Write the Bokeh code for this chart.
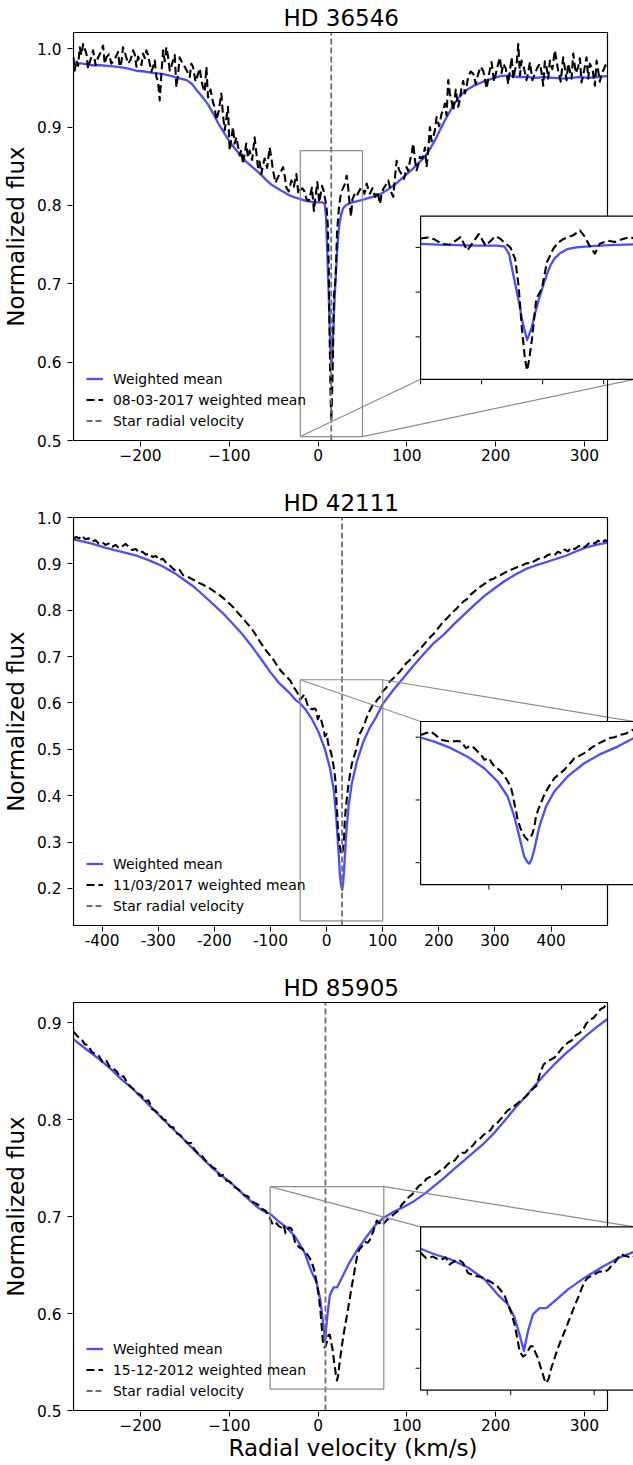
from bokeh.plotting import figure
from bokeh.layouts import column
from bokeh.models import Range1d, FixedTicker, Legend, LegendItem, PrintfTickFormatter
from bokeh.embed import file_html
from bokeh.resources import INLINE

# ------------------------------------------------------------------ data
P1_TITLE = "HD 36546"
P1_DATE = "08-03-2017 weighted mean"
P1_XLIM = (-275.5, 326.0)
P1_YLIM = (0.5, 1.0208)
P1_RV = 14.8
P1_BOX = (-20.0, 50.0, 0.505, 0.87)
P1_INSET = (0.65, 0.15, 0.4, 0.4)
P1_XTICKS = [-200, -100, 0, 100, 200, 300]
P1_XLABELS = ["\u2212200", "\u2212100", "0", "100", "200", "300"]
P1_YTICKS = [0.5, 0.6, 0.7, 0.8, 0.9, 1.0]
P1_INS_XTICKS = [-20, 0, 20, 40]
P1_INS_YTICKS = [0.6, 0.7, 0.8]
P1_BLUE = [(-275.5, .982), (-265, .981), (-255, .979), (-245, .979), (-235, .978), (-225, .977),
           (-215, .975), (-205, .972), (-195, .971), (-185, .969), (-175, .968), (-165, .965),
           (-155, .962), (-148, .960), (-142, .955), (-136, .946), (-130, .938), (-124, .929),
           (-118, .917), (-112, .904), (-106, .893), (-100, .882), (-94, .873), (-88, .865),
           (-82, .857), (-76, .851), (-70, .845), (-64, .839), (-58, .832), (-52, .826),
           (-46, .822), (-40, .818), (-34, .814), (-28, .811), (-20, .808), (-14, .806),
           (-8, .805), (-2, .804), (2, .804), (5, .804), (7.5, .802), (9, .785), (10.5, .735),
           (12, .685), (13.5, .630), (14.9, .593), (16.3, .618), (17.6, .655), (19, .690),
           (20.3, .717), (21.5, .742), (22.7, .762), (24, .776), (25.7, .787), (28, .796),
           (31, .800), (36, .803), (42, .805), (50, .807), (58, .810), (66, .812), (74, .817),
           (82, .823), (90, .830), (98, .838), (106, .846), (114, .855), (120, .862), (126, .872),
           (132, .884), (138, .898), (144, .911), (150, .923), (156, .934), (162, .942),
           (168, .948), (174, .952), (180, .955), (188, .959), (196, .962), (205, .965),
           (215, .966), (225, .964), (235, .964), (245, .963), (255, .964), (265, .963),
           (275, .962), (285, .963), (295, .964), (305, .963), (315, .964), (326, .965)]
P1_BLACK = [(-275.5, .989), (-274.2, .972), (-272.2, .985), (-268.5, 1.002), (-264.7, 1.006),
            (-261.0, .994), (-257.2, .983), (-253.4, .998), (-247.8, .989), (-242.2, 1.004),
            (-238.4, .989), (-232.8, .981), (-227.2, .991), (-223.4, .977), (-219.7, 1.002),
            (-214.0, .981), (-208.4, .998), (-204.6, .977), (-200.9, .985), (-197.1, .994),
            (-193.4, .998), (-189.6, .981), (-185.9, .977), (-182.1, .964), (-178.4, .934),
            (-176.5, .968), (-174.6, .998), (-170.9, 1.002), (-167.1, .972), (-163.4, .985),
            (-159.6, .951), (-155.9, .989), (-150.2, .977), (-144.6, .964), (-140.9, .977),
            (-135.2, .968), (-131.5, .960), (-127.7, .945), (-125.8, .977), (-124.0, .938),
            (-118.4, .932), (-114.6, .909), (-109.0, .943), (-105.2, .896), (-101.5, .926),
            (-99.6, .870), (-95.9, .900), (-92.1, .887), (-88.4, .864), (-84.6, .853),
            (-80.9, .879), (-77.1, .870), (-71.5, .887), (-67.7, .849), (-64.0, .840),
            (-60.2, .860), (-54.6, .874), (-50.8, .845), (-45.2, .836), (-39.5, .849),
            (-35.8, .823), (-30.1, .832), (-24.5, .840), (-20.0, .820), (-17.5, .822),
            (-15.5, .818), (-13.0, .808), (-10.5, .806), (-8.5, .815), (-6.9, .823),
            (-4.7, .793), (-2.8, .812), (-0.9, .830), (1.3, .804), (3.0, .815), (4.5, .825),
            (6.0, .820), (7.3, .812), (9.4, .800), (11.0, .774), (12.1, .715), (13.2, .618),
            (14.2, .550), (14.9, .525), (15.6, .550), (16.5, .595), (17.9, .685), (19.7, .707),
            (21.4, .767), (23.5, .797), (25.0, .810), (26.8, .819), (30.0, .827), (32.2, .838),
            (33.9, .823), (35.0, .808), (37.1, .786), (38.7, .808), (41.4, .815), (43.6, .812),
            (46.0, .818), (48.5, .823), (50.0, .820), (54.7, .828), (58.4, .815), (64.1, .811),
            (69.7, .802), (73.4, .821), (79.1, .832), (84.7, .811), (88.5, .857), (94.1, .840),
            (99.7, .849), (103.5, .857), (107.2, .879), (111.0, .845), (114.7, .862),
            (120.4, .874), (122.2, .849), (126.0, .900), (129.7, .887), (133.5, .913),
            (139.1, .917), (142.9, .930), (146.6, .960), (148.5, .943), (152.3, .921),
            (157.9, .926), (161.6, .951), (165.4, .943), (169.1, .964), (174.8, .968),
            (180.4, .968), (186.0, .972), (189.8, .949), (195.4, .983), (201.0, .972),
            (204.8, .989), (208.6, .981), (214.2, .955), (218.0, .989), (221.7, .972),
            (225.5, 1.006), (229.2, .985), (234.8, .960), (238.6, .983), (244.2, .968),
            (249.8, .981), (253.6, .953), (257.3, .977), (261.1, .985), (266.7, .998),
            (270.5, .972), (276.1, .989), (279.9, .960), (283.6, .972), (287.4, .994),
            (293.0, .977), (296.8, .957), (302.4, .989), (306.1, .981), (311.8, .953),
            (315.5, .972), (319.3, .968), (326.0, .985)]
# finer-scale noise of the same observed spectrum, read between the points above
P1_BLACK_FINE = [(-270.3, .978), (-266.6, .992), (-259.1, .975), (-255.3, .990), (-250.6, .979),
                 (-245.0, .995), (-240.3, .981), (-235.6, .993), (-230.0, .985), (-225.3, .996),
                 (-221.5, .983), (-216.8, .992), (-211.2, .986), (-206.5, .993), (-202.8, .990),
                 (-199.0, .979), (-195.2, .988), (-191.5, .992), (-187.7, .971), (-184.0, .985),
                 (-180.2, .958), (-172.7, .984), (-169.0, .990), (-165.2, .978), (-161.5, .992),
                 (-157.7, .968), (-153.0, .982), (-147.4, .971), (-142.7, .981), (-138.0, .958),
                 (-133.3, .975), (-129.6, .951), (-121.2, .948), (-116.5, .925), (-111.8, .921),
                 (-107.1, .915), (-103.3, .911), (-97.7, .885), (-94.0, .879), (-90.2, .876),
                 (-86.5, .871), (-82.7, .866), (-79.0, .861), (-74.3, .858), (-69.6, .868),
                 (-65.8, .856), (-62.1, .851), (-57.4, .848), (-52.7, .861), (-48.0, .829),
                 (-42.3, .842), (-37.6, .838), (-33.0, .818), (-27.3, .824), (-22.2, .815),
                 (52.3, .815), (56.5, .821), (61.2, .822), (66.9, .818), (71.5, .814),
                 (76.2, .826), (81.9, .818), (86.6, .836), (91.3, .845), (96.9, .834),
                 (101.6, .844), (105.3, .866), (109.1, .858), (112.8, .852), (117.5, .860),
                 (124.1, .871), (127.8, .882), (131.6, .896), (136.3, .901), (141.0, .922),
                 (144.7, .915), (150.4, .933), (155.1, .948), (159.7, .935), (163.5, .959),
                 (167.2, .952), (171.9, .971), (177.6, .955), (183.2, .977), (187.9, .962),
                 (192.6, .968), (198.2, .958), (202.9, .981), (206.7, .969), (211.4, .975),
                 (216.1, .972), (219.9, .962), (223.6, .981), (227.4, .966), (232.0, .975),
                 (236.7, .970), (241.4, .960), (247.0, .976), (251.7, .970), (255.4, .984),
                 (259.2, .962), (263.9, .974), (268.6, .985), (273.3, .958), (278.0, .975),
                 (281.7, .981), (285.5, .962), (290.2, .969), (294.9, .988), (299.6, .972),
                 (304.3, .962), (309.0, .975), (313.7, .985), (317.4, .958), (322.2, .975)]

P2_TITLE = "HD 42111"
P2_DATE = "11/03/2017 weighted mean"
P2_XLIM = (-451.0, 500.5)
P2_YLIM = (0.12, 1.0)
P2_RV = 27.5
P2_BOX = (-47.0, 100.0, 0.13, 0.65)
P2_INSET = (0.65, 0.10, 0.4, 0.4)
P2_XTICKS = [-400, -300, -200, -100, 0, 100, 200, 300, 400]
P2_XLABELS = ["-400", "-300", "-200", "-100", "0", "100", "200", "300", "400"]
P2_YTICKS = [0.2, 0.3, 0.4, 0.5, 0.6, 0.7, 0.8, 0.9, 1.0]
P2_INS_XTICKS = [0, 50, 100]
P2_INS_YTICKS = [0.2, 0.4, 0.6]
P2_BLUE = [(-451, .953), (-420, .944), (-395, .935), (-365, .926), (-337, .917), (-315, .907),
           (-294, .896), (-272, .881), (-251, .863), (-236, .850), (-222, .835), (-204, .815),
           (-186, .795), (-168, .772), (-150, .748), (-132, .720), (-114, .690), (-100, .666),
           (-85.5, .644), (-75, .632), (-64, .619), (-55, .606), (-47, .599), (-37.6, .586),
           (-26.1, .565), (-14.7, .538), (-3.2, .501), (6, .459), (12.9, .411), (17.5, .347),
           (20.9, .284), (24.3, .220), (26.5, .202), (27.8, .197), (29.3, .210), (31.2, .241),
           (34.7, .315), (39.3, .379), (45, .427), (54.2, .475), (65.6, .517), (77.1, .547),
           (88.6, .570), (100, .598), (118, .627), (137.4, .655), (155, .681), (173.4, .706),
           (190, .728), (209.3, .748), (227, .770), (245.3, .791), (263, .811), (281.3, .831),
           (300, .848), (317.3, .863), (335, .876), (353.3, .888), (371, .896), (389.3, .903),
           (407, .910), (425.2, .917), (443, .926), (461.2, .935), (480, .941), (500.5, .946)]
P2_BLACK = [(-451, .955), (-446, .958), (-441, .955), (-436, .961), (-430, .953), (-424, .955),
            (-418, .948), (-412, .951), (-406, .944), (-400, .947), (-394, .941), (-388, .944),
            (-382, .937), (-376, .941), (-370, .934), (-364, .938), (-358, .943), (-352, .936),
            (-346, .930), (-340, .932), (-334, .924), (-328, .926), (-322, .920), (-316, .922),
            (-310, .915), (-304, .917), (-298, .908), (-292, .911), (-286, .903), (-280, .897),
            (-274, .890), (-268, .884), (-262, .887), (-256, .876), (-250, .873), (-244, .870),
            (-238, .866), (-232, .862), (-226, .858), (-220, .855), (-214, .850), (-208, .847),
            (-202, .842), (-196, .837), (-190, .832), (-184, .826), (-178, .820), (-172, .813),
            (-166, .806), (-160, .797), (-154, .789), (-148, .781), (-142, .772), (-136, .764),
            (-130, .754), (-124, .742), (-118, .731), (-112, .720), (-106, .710), (-100, .701),
            (-94, .692), (-88, .680), (-82, .670), (-76, .662), (-70, .655), (-64, .647),
            (-58, .633), (-52, .622), (-47, .607), (-43, .613), (-39.9, .618), (-36, .604),
            (-33, .592), (-29, .588), (-26.1, .586), (-22, .588), (-19.2, .586), (-15.8, .565),
            (-13, .572), (-11.2, .570), (-8.5, .558), (-6.6, .549), (-4.5, .538), (-3.2, .528),
            (0.3, .533), (2, .518), (3.7, .507), (6, .500), (8.3, .491), (10, .480),
            (11.7, .469), (13.5, .455), (15.2, .438), (16.5, .415), (17.5, .390), (18.8, .362),
            (19.8, .337), (21.5, .313), (23.2, .294), (25, .281), (26.6, .273), (28.5, .280),
            (30.1, .294), (31.5, .320), (32.4, .347), (34, .370), (35.8, .390), (37.5, .410),
            (39.3, .427), (42, .448), (45, .469), (48.5, .483), (51.9, .496), (55.5, .515),
            (58.8, .533), (62, .540), (65.6, .549), (68, .556), (70.2, .565), (73, .573),
            (75.9, .581), (79, .588), (82.8, .597), (86.5, .600), (90.9, .608), (94.5, .612),
            (98.9, .623), (100, .625), (106, .632), (112, .645), (118, .652), (124, .660),
            (130, .667), (136, .676), (142, .686), (148, .692), (154, .701), (160, .709),
            (166, .716), (172, .724), (178, .733), (184, .741), (190, .748), (196, .757),
            (202, .766), (208, .776), (214, .782), (220, .790), (226, .797), (232, .804),
            (238, .812), (244, .819), (250, .824), (256, .833), (262, .839), (268, .846),
            (274, .851), (280, .856), (286, .860), (292, .866), (298, .868), (304, .873),
            (310, .876), (316, .880), (322, .884), (328, .887), (334, .890), (340, .893),
            (346, .895), (352, .899), (358, .902), (364, .901), (370, .906), (376, .910),
            (382, .913), (388, .914), (394, .919), (400, .921), (406, .919), (412, .926),
            (418, .923), (424, .931), (430, .927), (436, .935), (442, .932), (448, .937),
            (454, .941), (460, .936), (466, .943), (472, .947), (478, .944), (484, .950),
            (490, .945), (496, .951), (500.5, .949)]

P3_TITLE = "HD 85905"
P3_DATE = "15-12-2012 weighted mean"
P3_XLIM = (-275.5, 326.0)
P3_YLIM = (0.5, 0.921)
P3_RV = 8.3
P3_BOX = (-54.0, 74.0, 0.522, 0.731)
P3_INSET = (0.65, 0.05, 0.4, 0.4)
P3_XTICKS = [-200, -100, 0, 100, 200, 300]
P3_XLABELS = ["\u2212200", "\u2212100", "0", "100", "200", "300"]
P3_YTICKS = [0.5, 0.6, 0.7, 0.8, 0.9]
P3_INS_XTICKS = [-50, 0, 50]
P3_INS_YTICKS = [0.55, 0.6, 0.65, 0.7]
P3_BLUE = [(-275.5, .883), (-260, .872), (-244.5, .861), (-233, .852), (-221.8, .842), (-210, .833),
           (-199.1, .823), (-188, .813), (-176.3, .802), (-165, .792), (-153.6, .782), (-142, .771),
           (-130.9, .761), (-120, .751), (-108.2, .742), (-97, .734), (-85.4, .724), (-76, .716),
           (-67.2, .709), (-60, .705), (-54, .703), (-45.6, .696), (-35.6, .689), (-25.6, .679),
           (-15.7, .664), (-7.7, .644), (-1.7, .632), (2.3, .615), (5.3, .593), (7.9, .572),
           (10.3, .597), (13.3, .619), (17.3, .627), (21.3, .627), (26.3, .636), (34.3, .651),
           (44.3, .666), (54.3, .679), (64.2, .691), (74, .699), (85, .705), (96.4, .710),
           (108, .716), (119.1, .723), (130, .731), (141.9, .740), (153, .749), (164.6, .758),
           (176, .767), (187.3, .776), (199, .787), (210.1, .799), (221, .811), (232.8, .823),
           (244, .835), (255.5, .847), (267, .858), (278.3, .868), (290, .877), (301, .886),
           (313, .895), (326, .904)]
P3_BLACK = [(-275.5, .891), (-271, .886), (-267, .884), (-263, .878), (-259, .877), (-255, .870),
            (-251, .868), (-247, .866), (-243, .860), (-239, .862), (-235, .855), (-231, .853),
            (-227, .850), (-223, .844), (-219, .845), (-215, .838), (-211, .834), (-207, .831),
            (-203, .827), (-199, .825), (-195, .819), (-191, .820), (-187, .811), (-183, .809),
            (-179, .806), (-175, .801), (-171, .799), (-167, .793), (-163, .792), (-159, .786),
            (-155, .784), (-151, .779), (-147, .776), (-143, .776), (-139, .769), (-135, .765),
            (-131, .763), (-127, .758), (-123, .755), (-119, .751), (-115, .749), (-111, .742),
            (-107, .743), (-103, .737), (-99, .736), (-95, .731), (-91, .729), (-87, .726),
            (-83, .722), (-79, .721), (-75, .716), (-71, .714), (-67, .712), (-63, .708),
            (-59, .706), (-54, .698), (-50.6, .691), (-46.6, .693), (-44, .690), (-41.6, .689),
            (-39, .692), (-36.6, .683), (-34.5, .686), (-32.6, .689), (-30.5, .688), (-28.6, .685),
            (-25.6, .672), (-23, .670), (-20.6, .668), (-18, .667), (-15.7, .664), (-13, .662),
            (-10.7, .659), (-8, .655), (-5.7, .649), (-3.5, .642), (-1.7, .632), (0.5, .620),
            (2.3, .606), (4, .588), (5.3, .572), (7.3, .565), (8.8, .567), (10.3, .572),
            (11.8, .578), (13.3, .578), (14.8, .570), (16.3, .563), (17.8, .552), (19.3, .542),
            (20.3, .535), (21.3, .531), (22.8, .537), (24.3, .550), (26.3, .563), (28.3, .576),
            (30.3, .587), (32.3, .597), (34.3, .608), (36.3, .619), (38.3, .630), (40.3, .640),
            (42.3, .651), (44.3, .661), (46.3, .666), (48.2, .668), (50.8, .671), (53.3, .674),
            (55.8, .673), (58.3, .676), (60.3, .681), (62.2, .685), (64.2, .691), (66.2, .696),
            (68.2, .694), (70.2, .693), (72, .691), (74, .693), (78, .697), (82, .700),
            (86, .703), (90, .706), (94, .712), (98, .716), (102, .720), (106, .723),
            (110, .728), (114, .732), (118, .734), (122, .739), (126, .741), (130, .742),
            (134, .745), (138, .748), (142, .750), (146, .754), (150, .757), (154, .758),
            (158, .763), (162, .766), (166, .766), (170, .771), (174, .773), (178, .778),
            (182, .780), (186, .784), (190, .787), (194, .789), (198, .795), (202, .797),
            (206, .801), (210, .806), (214, .810), (218, .812), (222, .815), (226, .818),
            (230, .821), (234, .824), (238, .828), (242, .832), (246, .835), (250, .848),
            (254, .857), (258, .860), (262, .862), (266, .864), (270, .868), (274, .873),
            (278, .877), (282, .880), (286, .882), (290, .887), (294, .889), (298, .892),
            (302, .899), (306, .903), (310, .905), (314, .909), (318, .914), (322, .916),
            (326, .921)]

Y_LABEL = "Normalized flux"
X_LABEL = "Radial velocity (km/s)"

# ------------------------------------------------------------------ style / geometry
FONT = "DejaVu Sans"
BLUE = "#4d4dff"
BLACK = "#000000"
RV_COLOR = "#6e6e6e"
BOX_COLOR = "#8c8c8c"

AX_L, AX_W, AX_H = 73, 534, 408      # main axes box in px
FR_L, FR_W, FR_H = 72, 561, 410      # bokeh frame (1 px padding, extends to right edge)
FIG_W = 633


def panel(title, date_label, xlim, ylim, rv, box, inset, connect,
          xticks, xlabels, yticks, ins_xt, ins_yt, blue, black,
          height, border_bottom, xlabel=None):
    x0, x1 = xlim
    y0, y1 = ylim
    kx = AX_W / (x1 - x0)
    ky = AX_H / (y1 - y0)
    p = figure(width=FIG_W, height=height,
               x_range=Range1d(x0 - 1 / kx, x0 + (FR_W - 1) / kx),
               y_range=Range1d(y0 - 1 / ky, y1 + 1 / ky),
               min_border_left=FR_L, min_border_right=0, min_border_top=31,
               min_border_bottom=border_bottom,
               output_backend="svg", toolbar_location=None, title=title)
    p.title.text_font = FONT
    p.title.text_font_size = "23px"
    p.title.text_font_style = "normal"
    p.title.text_color = "black"
    p.title.align = "left"
    p.title.offset = 211
    p.title.standoff = 2
    p.outline_line_color = None
    p.xgrid.visible = False
    p.ygrid.visible = False
    p.background_fill_color = "white"
    p.border_fill_color = "white"

    xa = p.xaxis[0]
    ya = p.yaxis[0]
    xa.ticker = FixedTicker(ticks=xticks)
    xa.major_label_overrides = dict(zip(xticks, xlabels))
    ya.ticker = FixedTicker(ticks=yticks)
    ya.formatter = PrintfTickFormatter(format="%.1f")
    for ax in (xa, ya):
        ax.axis_line_color = None
        ax.major_tick_in = 0
        ax.major_tick_out = 5
        ax.major_tick_line_color = "black"
        ax.major_tick_line_width = 1
        ax.minor_tick_line_color = None
        ax.minor_tick_out = 0
        ax.major_label_text_font = FONT
        ax.major_label_text_font_size = "15.4px"
        ax.major_label_text_color = "black"
        ax.axis_label_text_font = FONT
        ax.axis_label_text_font_size = "23px"
        ax.axis_label_text_font_style = "normal"
        ax.axis_label_text_color = "black"
    ya.major_label_standoff = 6
    ya.axis_label = Y_LABEL
    ya.axis_label_standoff = 5
    xa.major_label_standoff = 2
    if xlabel:
        xa.axis_label = xlabel
        xa.axis_label_standoff = 1

    black = sorted(black)
    bv = [v for v, f in blue]
    bf = [f for v, f in blue]
    kv = [v for v, f in black]
    kf = [f for v, f in black]
    r_blue = p.line(bv, bf, line_color=BLUE, line_width=2.3, line_join="round")
    r_black = p.line(kv, kf, line_color=BLACK, line_width=2.1, line_dash="8 4", line_join="round")
    r_rv = p.line([rv, rv], [y0, y1], line_color=RV_COLOR, line_width=1.8, line_dash="6 3")

    bx0, bx1, by0, by1 = box
    p.quad(left=[bx0], right=[bx1], bottom=[by0], top=[by1], fill_color=None,
           line_color=BOX_COLOR, line_width=1.2)
    fx, fy, fw, fh = inset
    tx0 = x0 + fx * (x1 - x0)
    tx1 = x0 + (fx + fw) * (x1 - x0)
    ty0 = y0 + fy * (y1 - y0)
    ty1 = y0 + (fy + fh) * (y1 - y0)
    if connect == "bottom":
        cb, ci = by0, ty0
    else:
        cb, ci = by1, ty1
    p.segment(x0=[bx0, bx1], y0=[cb, cb], x1=[tx0, tx1], y1=[ci, ci],
              line_color=BOX_COLOR, line_width=1.2)
    # main axes spines
    p.quad(left=[x0], right=[x1], bottom=[y0], top=[y1], fill_color=None,
           line_color="black", line_width=1.2)

    # inset (zoomed) axes drawn through a sub-coordinate mapping
    ins = p.subplot(x_source=Range1d(bx0, bx1), y_source=Range1d(by0, by1),
                    x_target=Range1d(tx0, tx1), y_target=Range1d(ty0, ty1))
    ins.quad(left=[bx0], right=[bx1], bottom=[by0], top=[by1], fill_color="white", line_color=None)
    ib = [(v, f) for v, f in blue if bx0 <= v <= bx1]
    ik = [(v, f) for v, f in black if bx0 <= v <= bx1]
    ins.line([v for v, f in ib], [f for v, f in ib], line_color=BLUE, line_width=2.3, line_join="round")
    ins.line([v for v, f in ik], [f for v, f in ik], line_color=BLACK, line_width=2.1,
             line_dash="8 4", line_join="round")
    ins.quad(left=[bx0], right=[bx1], bottom=[by0], top=[by1], fill_color=None,
             line_color="black", line_width=1.2)
    lx = 5 * (bx1 - bx0) / (fw * AX_W)
    ly = 5 * (by1 - by0) / (fh * AX_H)
    ins.segment(x0=[bx0] * len(ins_yt), y0=ins_yt, x1=[bx0 - lx] * len(ins_yt), y1=ins_yt,
                line_color="black", line_width=1)
    ins.segment(x0=ins_xt, y0=[by0] * len(ins_xt), x1=ins_xt, y1=[by0 - ly] * len(ins_xt),
                line_color="black", line_width=1)

    leg = Legend(items=[LegendItem(label="Weighted mean", renderers=[r_blue]),
                        LegendItem(label=date_label, renderers=[r_black]),
                        LegendItem(label="Star radial velocity", renderers=[r_rv])],
                 location=(14, 10))
    leg.label_text_font = FONT
    leg.label_text_font_size = "13.9px"
    leg.label_text_color = "black"
    leg.glyph_width = 17
    leg.glyph_height = 21
    leg.label_height = 21
    leg.label_standoff = 10
    leg.spacing = 0
    leg.padding = 0
    leg.margin = 0
    leg.border_line_color = None
    leg.background_fill_alpha = 0
    p.add_layout(leg)
    return p


p1 = panel(P1_TITLE, P1_DATE, P1_XLIM, P1_YLIM, P1_RV, P1_BOX, P1_INSET, "bottom",
           P1_XTICKS, P1_XLABELS, P1_YTICKS, P1_INS_XTICKS, P1_INS_YTICKS, P1_BLUE,
           P1_BLACK + P1_BLACK_FINE, 485, 44)
p2 = panel(P2_TITLE, P2_DATE, P2_XLIM, P2_YLIM, P2_RV, P2_BOX, P2_INSET, "top",
           P2_XTICKS, P2_XLABELS, P2_YTICKS, P2_INS_XTICKS, P2_INS_YTICKS, P2_BLUE, P2_BLACK,
           485, 44)
p3 = panel(P3_TITLE, P3_DATE, P3_XLIM, P3_YLIM, P3_RV, P3_BOX, P3_INSET, "top",
           P3_XTICKS, P3_XLABELS, P3_YTICKS, P3_INS_XTICKS, P3_INS_YTICKS, P3_BLUE, P3_BLACK,
           495, 54, xlabel=X_LABEL)

layout = column(p1, p2, p3, spacing=0)
open("out.html", "w").write(file_html(layout, INLINE))
